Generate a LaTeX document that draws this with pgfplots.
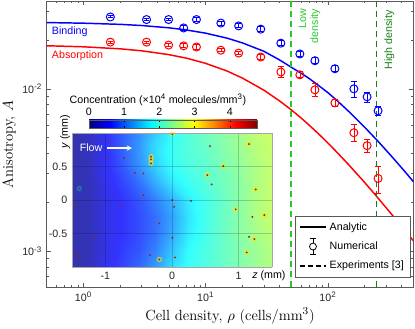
\documentclass[border=0pt]{standalone}
\usepackage{fontspec}
\setsansfont{Liberation Sans}
\usepackage{pgfplots}
\pgfplotsset{compat=1.18}
\usetikzlibrary{arrows.meta}
\definecolor{lowgreen}{RGB}{40,200,40}
\definecolor{highgreen}{RGB}{20,128,20}
\definecolor{axgray}{RGB}{90,90,90}
\definecolor{celldot}{RGB}{150,40,30}

\begin{document}
\begin{tikzpicture}
\path[use as bounding box] (-35.0pt,-30.5pt) rectangle (276.2pt,215.5pt);
% main axis
\begin{axis}[
    name=main, at={(0pt,0pt)}, anchor=south west,
    scale only axis, width=275pt, height=214.4pt,
    xmode=log, ymode=log,
    xmin=0.5, xmax=500, ymin=6e-4, ymax=0.0345,
    xtick={1,10,100}, xticklabels={10\textsuperscript{0},10\textsuperscript{1},10\textsuperscript{2}},
    ytick={0.001,0.01}, yticklabels={10\textsuperscript{-3},10\textsuperscript{-2}},
    minor xtick={0.5,0.6,0.7,0.8,0.9,2,3,4,5,6,7,8,9,20,30,40,50,60,70,80,90,200,300,400,500},
    minor ytick={6e-4,7e-4,8e-4,9e-4,0.002,0.003,0.004,0.005,0.006,0.007,0.008,0.009,0.02,0.03},
    tick label style={font=\sffamily\fontsize{8}{9}\selectfont, text=black!85},
    tick align=inside, major tick length=3pt, minor tick length=1.5pt,
    tick style={axgray, line width=0.5pt},
    axis line style={axgray, line width=0.6pt},
    xlabel={Cell density, $\rho$ (cells/mm$^3$)},
    ylabel={Anisotropy, $A$},
    label style={font=\rmfamily\fontsize{11}{13}\selectfont},
    xlabel style={yshift=2pt},
    ylabel style={yshift=-2pt},
    legend style={at={(0.991,0.036)}, anchor=south east, draw=axgray, fill=white,
        font=\sffamily\fontsize{8}{9}\selectfont, inner sep=2.5pt, row sep=2.6pt},
    legend cell align=left,
]
% analytic curves
\addplot[blue, line width=1.1pt, forget plot] coordinates {
(0.5,0.02558) (1,0.02536) (2,0.02494) (3,0.02453) (5,0.02375) (7,0.02302) (10,0.02201)
(15,0.02050) (20,0.01918) (30,0.01701) (40,0.01510) (50,0.01360) (60,0.01250) (70,0.01160)
(85,0.01040) (100,0.00947) (120,0.00841) (150,0.00719) (200,0.00580) (250,0.00486)
(300,0.00418) (350,0.00367) (400,0.00327) (450,0.00295) (500,0.00268)};
\addplot[red, line width=1.1pt, forget plot] coordinates {
(0.5,0.01842) (1,0.01815) (2,0.01763) (3,0.01714) (5,0.01624) (7,0.01543) (10,0.01435)
(15,0.01286) (20,0.01164) (30,0.00980) (40,0.00845) (50,0.00744) (60,0.00664) (70,0.00599)
(85,0.00523) (100,0.00464) (120,0.00403) (150,0.00337) (200,0.00265) (250,0.00218)
(300,0.00185) (350,0.00161) (400,0.00143) (450,0.00128) (500,0.00116)};
% experiments
\addplot[lowgreen, line width=1.1pt, dash pattern=on 5pt off 2.5pt, forget plot] coordinates {(50,6e-4) (50,0.0345)};
\addplot[highgreen, line width=1.1pt, dash pattern=on 5pt off 2.5pt, forget plot] coordinates {(250,6e-4) (250,0.0345)};
% numerical
\addplot[blue, only marks, mark=o, mark size=3pt, line width=0.75pt, forget plot,
    error bars/.cd, y dir=both, y explicit, error mark options={rotate=90, mark size=2pt, line width=0.75pt}]
    table[x=rho, y=A, y error=e] {
rho A e
1.66 0.0277 0.0004
3.28 0.0267 0.0004
4.97 0.0267 0.0005
6.6 0.0237 0.0007
8.4 0.0267 0.0006
13.3 0.0254 0.0007
18.6 0.0244 0.0007
28.2 0.0233 0.0008
41.2 0.0191 0.0007
58.9 0.0164 0.0006
78.2 0.0149 0.0006
114 0.0133 0.00057
163 0.0100 0.00117
209 0.00893 0.00063
257 0.00733 0.0005
};
\addplot[red, only marks, mark=o, mark size=3pt, line width=0.75pt, forget plot,
    error bars/.cd, y dir=both, y explicit, error mark options={rotate=90, mark size=2pt, line width=0.75pt}]
    table[x=rho, y=A, y error=e] {
rho A e
1.66 0.0194 0.0003
3.28 0.0194 0.0003
4.97 0.0186 0.0005
6.6 0.0184 0.0005
8.4 0.0181 0.0006
13.3 0.0173 0.0004
18.6 0.0166 0.0004
28.2 0.0157 0.0005
41.2 0.0127 0.00095
58.9 0.0122 0.0005
78.2 0.00986 0.0009
114 0.0082 0.0004
163 0.00537 0.00065
209 0.00447 0.0004
257 0.00281 0.00054
};
% legend
\addlegendimage{legend image code/.code={\draw[black, line width=1.1pt] (0pt,0pt) -- (20pt,0pt);}}
\addlegendimage{legend image code/.code={
    \draw[black, line width=0.6pt] (10pt,-6pt) -- (10pt,6pt) (8pt,-6pt) -- (12pt,-6pt) (8pt,6pt) -- (12pt,6pt);
    \draw[black, line width=0.6pt, fill=white] (10pt,0pt) circle (2.6pt);}}
\addlegendimage{legend image code/.code={\draw[black, line width=1.1pt, dash pattern=on 4pt off 2pt] (0pt,0pt) -- (20pt,0pt);}}
\legend{Analytic, Numerical, Experiments [3]}
% text labels
\node[anchor=west, inner sep=0pt, text=blue, font=\sffamily\fontsize{8}{9}\selectfont] at (axis cs:0.55,0.0224) {Binding};
\node[anchor=west, inner sep=0pt, text=red, font=\sffamily\fontsize{8}{9}\selectfont] at (axis cs:0.55,0.0159) {Absorption};
\node[rotate=90, anchor=north east, align=right, inner sep=0pt, text=lowgreen, font=\sffamily\fontsize{8}{9}\selectfont] at (axis cs:57.5,0.0310) {Low\\density};
\node[rotate=90, anchor=north east, inner sep=0pt, text=highgreen, font=\sffamily\fontsize{8}{9}\selectfont] at (axis cs:288,0.0305) {High density};
\end{axis}

% inset concentration map
\begin{axis}[
    at={(19.0pt,15.2pt)}, anchor=south west,
    scale only axis, width=150pt, height=100.5pt,
    view={0}{90},
    xmin=-1.5, xmax=1.5, ymin=-1, ymax=1,
    enlargelimits=false, axis on top,
    xtick={-1,0,1}, xticklabels={-1,0,1},
    ytick={-0.5,0,0.5}, yticklabels={-0.5,0,0.5},
    ztick=\empty,
    grid=major, grid style={black, opacity=0.18, line width=0.4pt},
    major tick length=0pt,
    axis line style={black!35, line width=0.6pt},
    tick label style={font=\sffamily\fontsize{8}{9}\selectfont, text=black!85},
    colormap/jet,
    point meta min=0, point meta max=4.77,
    colorbar horizontal,
    colorbar style={
        at={(0.0847,1.038)}, anchor=south west,
        scale only axis, width=126pt, height=6pt,
        xtick={0,1,2,3,4}, xticklabel pos=upper,
        xticklabels={0,1,2,3,4},
        major tick length=1.5pt, tick align=inside,
        tick style={black, line width=0.4pt},
        axis line style={axgray, line width=0.5pt},
        tick label style={font=\sffamily\fontsize{8}{9}\selectfont, text=black},
    },
    clip mode=individual,
]
\addplot3[surf, shader=interp, opacity=0.8, mesh/rows=9, point meta=\thisrow{c}] table[x=z, y=y, z=c] {
z y c
-1.5 -1 0.12
-1.25 -1 0.18
-1 -1 0.5
-0.75 -1 0.7
-0.5 -1 0.9
-0.25 -1 1.2
0 -1 1.6
0.25 -1 1.85
0.5 -1 1.95
0.75 -1 2.1
1 -1 2.25
1.25 -1 2.4
1.5 -1 2.55

-1.5 -0.75 0.12
-1.25 -0.75 0.18
-1 -0.75 0.45
-0.75 -0.75 0.65
-0.5 -0.75 0.8
-0.25 -0.75 1.05
0 -0.75 1.45
0.25 -0.75 1.8
0.5 -0.75 1.95
0.75 -0.75 2.1
1 -0.75 2.25
1.25 -0.75 2.4
1.5 -0.75 2.55

-1.5 -0.5 0.12
-1.25 -0.5 0.18
-1 -0.5 0.45
-0.75 -0.5 0.6
-0.5 -0.5 0.75
-0.25 -0.5 0.95
0 -0.5 1.3
0.25 -0.5 1.7
0.5 -0.5 1.9
0.75 -0.5 2.1
1 -0.5 2.3
1.25 -0.5 2.45
1.5 -0.5 2.6

-1.5 -0.25 0.12
-1.25 -0.25 0.18
-1 -0.25 0.45
-0.75 -0.25 0.6
-0.5 -0.25 0.75
-0.25 -0.25 0.95
0 -0.25 1.25
0.25 -0.25 1.65
0.5 -0.25 1.9
0.75 -0.25 2.1
1 -0.25 2.3
1.25 -0.25 2.5
1.5 -0.25 2.65

-1.5 0 0.12
-1.25 0 0.18
-1 0 0.45
-0.75 0 0.6
-0.5 0 0.8
-0.25 0 1.05
0 0 1.35
0.25 0 1.7
0.5 0 1.9
0.75 0 2.1
1 0 2.3
1.25 0 2.5
1.5 0 2.65

-1.5 0.25 0.12
-1.25 0.25 0.18
-1 0.25 0.5
-0.75 0.25 0.7
-0.5 0.25 0.95
-0.25 0.25 1.3
0 0.25 1.65
0.25 0.25 1.85
0.5 0.25 2.0
0.75 0.25 2.15
1 0.25 2.3
1.25 0.25 2.5
1.5 0.25 2.65

-1.5 0.5 0.12
-1.25 0.5 0.22
-1 0.5 0.55
-0.75 0.5 0.8
-0.5 0.5 1.15
-0.25 0.5 1.5
0 0.5 1.8
0.25 0.5 1.95
0.5 0.5 2.05
0.75 0.5 2.2
1 0.5 2.35
1.25 0.5 2.5
1.5 0.5 2.65

-1.5 0.75 0.12
-1.25 0.75 0.22
-1 0.75 0.55
-0.75 0.75 0.85
-0.5 0.75 1.2
-0.25 0.75 1.6
0 0.75 1.85
0.25 0.75 2.0
0.5 0.75 2.1
0.75 0.75 2.25
1 0.75 2.4
1.25 0.75 2.55
1.5 0.75 2.65

-1.5 1 0.12
-1.25 1 0.22
-1 1 0.55
-0.75 1 0.85
-0.5 1 1.15
-0.25 1 1.5
0 1 1.8
0.25 1 2.0
0.5 1 2.15
0.75 1 2.3
1 1 2.45
1.25 1 2.6
1.5 1 2.7
};
% cells: glow and dots
\addplot3[only marks, mark=*, mark size=1.8pt, color=yellow!90!orange, opacity=0.5] coordinates {
(-0.315,0.646,3) (-0.315,0.607,3) (-0.315,0.548,3) (0.53,0.373,3) (1.255,0.159,3) (0.955,-0.139,3)
(1.385,-0.224,3) (1.235,-0.582,3) (1.12,-0.781,3) (-0.19,-0.886,3) (1.155,0.836,3) (0.77,0.507,3)
(0.005,0.985,3)};
\addplot3[only marks, mark=*, mark size=1.8pt, color=cyan!70!green, opacity=0.5] coordinates {
(-1.39,0.174,3)};
\addplot3[only marks, mark=*, mark size=0.5pt, color=celldot] coordinates {
(-0.94,0.885,3) (-0.97,0.607,3) (-0.72,0.627,3) (-0.315,0.646,3) (-0.315,0.607,3) (-0.315,0.548,3)
(-0.555,0.407,3) (-0.43,0.398,3) (-1.39,0.174,3) (-0.43,0.074,3) (-1.465,-0.075,3) (-0.765,-0.075,3)
(-0.19,-0.348,3) (-1.145,-0.563,3) (-1.43,-0.811,3) (-1.39,-0.886,3) (-0.33,-0.821,3) (-0.19,-0.886,3)
(0.005,0.985,3) (0.57,0.806,3) (1.155,0.836,3) (0.77,0.507,3) (0.53,0.373,3) (0.595,0.234,3)
(1.255,0.159,3) (0.285,-0.011,3) (0.005,0.0,3) (0.03,-0.1,3) (0.955,-0.139,3) (1.205,-0.25,3)
(1.385,-0.224,3) (1.155,-0.548,3) (1.235,-0.582,3) (0.005,-0.563,3) (0.045,-0.856,3) (1.12,-0.781,3)};
% labels and flow arrow
\node[text=white, font=\sffamily\fontsize{8}{9}\selectfont, inner sep=0pt] at (axis cs:-1.215,0.776,4) {Flow};
\draw[white, line width=1pt, -{Stealth[length=4pt, width=4pt]}] (axis cs:-0.98,0.776,4) -- (axis cs:-0.6,0.776,4);
\node[anchor=west, inner sep=0pt, font=\sffamily\fontsize{8}{9}\selectfont] at (axis description cs:0.9,-0.067) {\textit{z} (mm)};
\node[rotate=90, inner sep=0pt, font=\sffamily\fontsize{8}{9}\selectfont] at (axis description cs:-0.035,1.011) {\textit{y} (mm)};
\node[inner sep=0pt, font=\sffamily\fontsize{8}{9}\selectfont] at (axis description cs:0.43,1.246) {Concentration (\texttimes10\textsuperscript{4} molecules/mm\textsuperscript{3})};
\end{axis}
\end{tikzpicture}
\end{document}
